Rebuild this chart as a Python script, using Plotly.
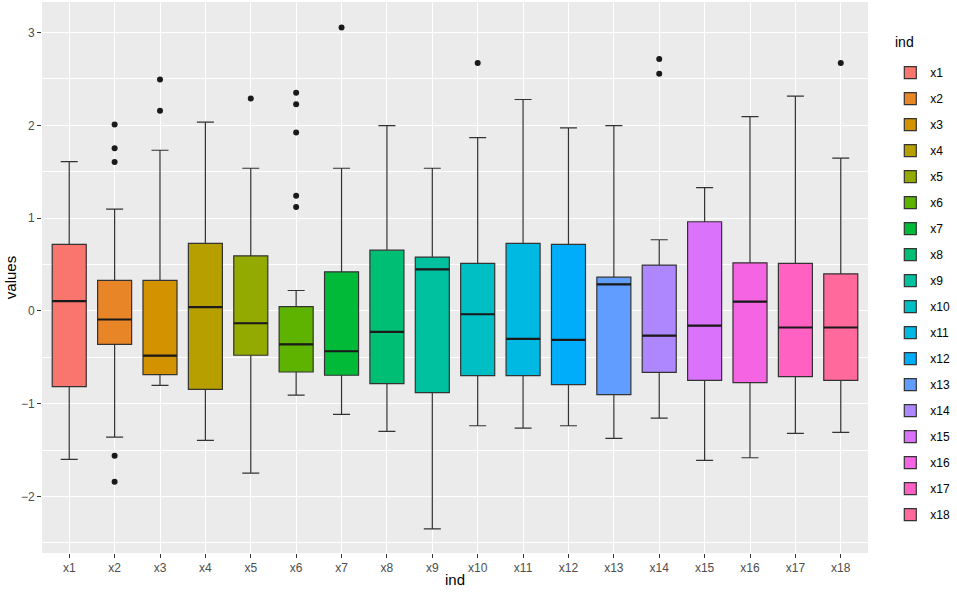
import math
import plotly.graph_objects as go

# box statistics (one per variable)
cats = ['x%d' % i for i in range(1, 19)]
q1 = [-0.816, -0.36, -0.687, -0.846, -0.478, -0.659, -0.694, -0.784, -0.881,
      -0.698, -0.698, -0.795, -0.903, -0.662, -0.748, -0.773, -0.708, -0.748]
med = [0.105, -0.093, -0.482, 0.04, -0.133, -0.36, -0.435, -0.227, 0.447,
       -0.036, -0.302, -0.313, 0.285, -0.266, -0.158, 0.101, -0.179, -0.179]
q3 = [0.717, 0.328, 0.328, 0.728, 0.594, 0.047, 0.421, 0.655, 0.58,
      0.512, 0.728, 0.717, 0.364, 0.494, 0.961, 0.518, 0.512, 0.4]
lo = [-1.60, -1.36, -0.802, -1.396, -1.749, -0.907, -1.116, -1.299, -2.35,
      -1.238, -1.263, -1.238, -1.375, -1.155, -1.612, -1.583, -1.321, -1.31]
hi = [1.609, 1.098, 1.732, 2.035, 1.538, 0.22, 1.538, 1.998, 1.538,
      1.868, 2.279, 1.973, 1.998, 0.767, 1.328, 2.095, 2.315, 1.646]

out_cat = ['x2', 'x2', 'x2', 'x2', 'x2', 'x3', 'x3', 'x5',
           'x6', 'x6', 'x6', 'x6', 'x6', 'x7', 'x10', 'x14', 'x14', 'x18']
out_val = [2.009, 1.754, 1.606, -1.562, -1.843, 2.495, 2.157, 2.29,
           2.351, 2.229, 1.922, 1.242, 1.12, 3.056, 2.672, 2.715, 2.556, 2.672]


def hcl_hex(h, c=100.0, l=65.0):
    # ggplot2 hue palette colour (polar Luv -> sRGB)
    xn, yn, zn = 95.047, 100.0, 108.883
    un = 4 * xn / (xn + 15 * yn + 3 * zn)
    vn = 9 * yn / (xn + 15 * yn + 3 * zn)
    U = c * math.cos(math.radians(h))
    V = c * math.sin(math.radians(h))
    Y = yn * ((l + 16) / 116) ** 3
    u = U / (13 * l) + un
    v = V / (13 * l) + vn
    X = 9 * Y * u / (4 * v)
    Z = Y * (12 - 3 * u - 20 * v) / (4 * v)
    X, Y, Z = X / 100, Y / 100, Z / 100
    rgb = [3.240479 * X - 1.537150 * Y - 0.498535 * Z,
           -0.969256 * X + 1.875992 * Y + 0.041556 * Z,
           0.055648 * X - 0.204043 * Y + 1.057311 * Z]
    res = []
    for ch in rgb:
        ch = 12.92 * ch if ch <= 0.0031308 else 1.055 * ch ** (1 / 2.4) - 0.055
        res.append(int(round(min(max(ch, 0), 1) * 255)))
    return '#%02X%02X%02X' % tuple(res)


colors = [hcl_hex(15 + 20 * i) for i in range(len(cats))]
pos = list(range(len(cats)))
bw = 0.75

fig = go.Figure()
for i, name in enumerate(cats):
    fig.add_trace(go.Box(x=[pos[i]], q1=[q1[i]], median=[med[i]], q3=[q3[i]],
                         lowerfence=[lo[i]], upperfence=[hi[i]],
                         name=name, legendgroup=name, width=bw,
                         fillcolor=colors[i], boxpoints=False,
                         line=dict(color='#333333', width=1.2)))

# thicker median lines like ggplot
mx, my = [], []
for i in pos:
    mx += [i - bw / 2, i + bw / 2, None]
    my += [med[i], med[i], None]
fig.add_trace(go.Scatter(x=mx, y=my, mode='lines', showlegend=False,
                         line=dict(color='#1A1A1A', width=2.2), hoverinfo='skip'))

fig.add_trace(go.Scatter(x=[cats.index(c) for c in out_cat], y=out_val,
                         mode='markers', showlegend=False,
                         marker=dict(color='#1A1A1A', size=6)))

fig.update_layout(
    width=957, height=595,
    margin=dict(l=42, r=83, t=2, b=42),
    paper_bgcolor='white', plot_bgcolor='#EBEBEB',
    font=dict(family='Liberation Sans, Arial', size=12, color='black'),
    showlegend=True,
    legend=dict(x=1.027, y=0.898, xanchor='left', yanchor='top',
                tracegroupgap=7, font=dict(size=12), bgcolor='white'),
    annotations=[dict(text='ind', xref='paper', yref='paper', x=1.03, y=0.927,
                      xanchor='left', yanchor='middle', showarrow=False,
                      font=dict(size=14))],
)
fig.update_xaxes(range=[-0.6, 17.6], tickvals=pos, ticktext=cats,
                 automargin=False,
                 showgrid=True, gridcolor='white', gridwidth=1.1, zeroline=False,
                 ticks='outside', ticklen=4, tickcolor='#333333',
                 tickfont=dict(size=12, color='#4D4D4D'),
                 title=dict(text='ind', font=dict(size=15), standoff=0))
fig.update_yaxes(range=[-2.61, 3.33], tickvals=[-2, -1, 0, 1, 2, 3],
                 automargin=False,
                 showgrid=True, gridcolor='white', gridwidth=1.1, zeroline=False,
                 ticks='outside', ticklen=4, tickcolor='#333333',
                 tickfont=dict(size=12, color='#4D4D4D'),
                 minor=dict(tick0=0.5, dtick=1, showgrid=True,
                            gridcolor='white', gridwidth=0.5),
                 title=dict(text='values', font=dict(size=15), standoff=0))

fig.write_html('out.html', config={'displayModeBar': False},
               post_script="document.body.style.margin='0';")
